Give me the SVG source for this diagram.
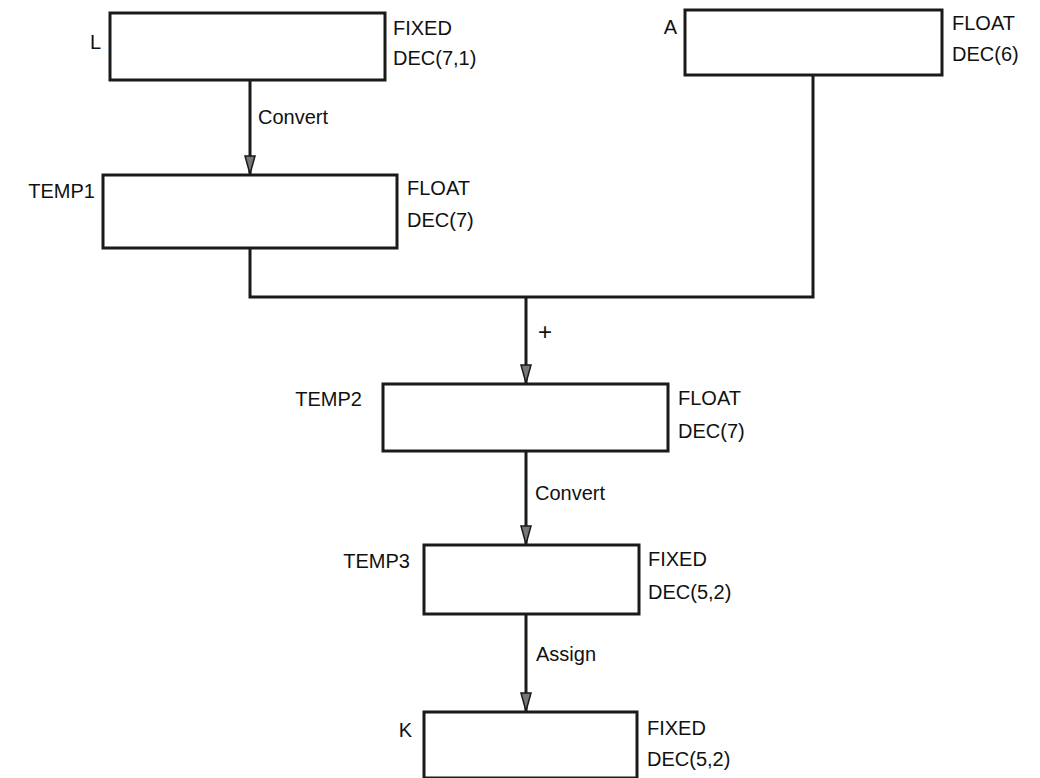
<svg xmlns="http://www.w3.org/2000/svg" width="1040" height="778" viewBox="0 0 1040 778">
<style>
.box{fill:#fff;stroke:#1a1a1a;stroke-width:3}
.ln{fill:none;stroke:#1a1a1a;stroke-width:3}
.t{font-family:"Liberation Sans",Arial,sans-serif;font-size:20px;fill:#111}
.e{text-anchor:end}
</style>
<defs>
<marker id="ah" markerUnits="userSpaceOnUse" markerWidth="22" markerHeight="12" refX="20" refY="6" orient="auto" viewBox="0 0 22 12">
<path d="M2,1 L20,6 L2,11 Z" fill="#777" stroke="#1a1a1a" stroke-width="1.5"/>
</marker>
</defs>
<rect width="1040" height="778" fill="#fff"/>
<g id="connectors">
<line class="ln" x1="250" y1="80" x2="250" y2="174" marker-end="url(#ah)"/>
<text class="t" x="258" y="124">Convert</text>
<polyline class="ln" points="250,248 250,297 813,297 813,75"/>
<line class="ln" x1="526" y1="297" x2="526" y2="383" marker-end="url(#ah)"/>
<text class="t" x="538" y="340" style="font-size:24px">+</text>
<line class="ln" x1="526" y1="451" x2="526" y2="544" marker-end="url(#ah)"/>
<text class="t" x="535" y="500">Convert</text>
<line class="ln" x1="526" y1="614" x2="526" y2="711" marker-end="url(#ah)"/>
<text class="t" x="536" y="661">Assign</text>
</g>
<g id="L">
<rect class="box" x="110" y="13" width="275" height="67"/>
<text class="t e" x="101" y="49">L</text>
<text class="t" x="393" y="35">FIXED</text>
<text class="t" x="393" y="65">DEC(7,1)</text>
</g>
<g id="A">
<rect class="box" x="685" y="10" width="257" height="65"/>
<text class="t e" x="677" y="34">A</text>
<text class="t" x="952" y="30">FLOAT</text>
<text class="t" x="952" y="61">DEC(6)</text>
</g>
<g id="TEMP1">
<rect class="box" x="103" y="175" width="294" height="73"/>
<text class="t e" x="95" y="198">TEMP1</text>
<text class="t" x="407" y="195">FLOAT</text>
<text class="t" x="407" y="227">DEC(7)</text>
</g>
<g id="TEMP2">
<rect class="box" x="383" y="384" width="285" height="67"/>
<text class="t e" x="362" y="406">TEMP2</text>
<text class="t" x="678" y="405">FLOAT</text>
<text class="t" x="678" y="438">DEC(7)</text>
</g>
<g id="TEMP3">
<rect class="box" x="424" y="545" width="215" height="69"/>
<text class="t e" x="410" y="568">TEMP3</text>
<text class="t" x="648" y="566">FIXED</text>
<text class="t" x="648" y="599">DEC(5,2)</text>
</g>
<g id="K">
<rect class="box" x="424" y="712" width="213" height="66"/>
<text class="t e" x="412" y="737">K</text>
<text class="t" x="647" y="735">FIXED</text>
<text class="t" x="647" y="766">DEC(5,2)</text>
</g>
</svg>
